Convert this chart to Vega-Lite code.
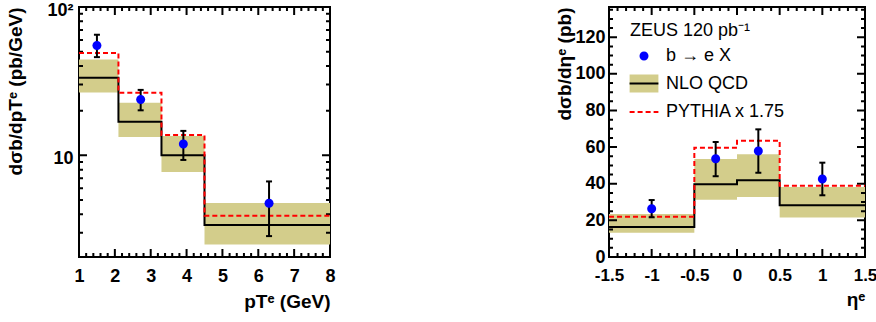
{
  "$schema": "https://vega.github.io/schema/vega-lite/v6.json",
  "padding": {"left": 5, "top": 0, "right": 0, "bottom": 0},
  "background": "white",
  "datasets": {
    "pt": [
      {"bin": 1, "lo": 1.0, "hi": 2.1, "x": 1.5, "val": 55.0, "elo": 45.9, "ehi": 65.0, "nlo": 33.3, "nlolo": 26.5, "nlohi": 44.3, "py": 48.9},
      {"bin": 2, "lo": 2.1, "hi": 3.3, "x": 2.72, "val": 23.8, "elo": 20.1, "ehi": 27.6, "nlo": 16.8, "nlolo": 13.3, "nlohi": 22.6, "py": 26.4},
      {"bin": 3, "lo": 3.3, "hi": 4.5, "x": 3.91, "val": 11.9, "elo": 9.3, "ehi": 14.6, "nlo": 10.0, "nlolo": 7.7, "nlohi": 13.5, "py": 13.7},
      {"bin": 4, "lo": 4.5, "hi": 8.0, "x": 6.3, "val": 4.74, "elo": 2.85, "ehi": 6.66, "nlo": 3.38, "nlolo": 2.5, "nlohi": 4.77, "py": 3.91}
    ],
    "eta": [
      {"bin": 1, "lo": -1.5, "hi": -0.5, "x": -1.0, "val": 26.4, "elo": 21.7, "ehi": 31.1, "nlo": 16.4, "nlolo": 13.3, "nlohi": 23.5, "py": 22.0},
      {"bin": 2, "lo": -0.5, "hi": 0.0, "x": -0.25, "val": 53.7, "elo": 44.1, "ehi": 62.8, "nlo": 39.7, "nlolo": 31.3, "nlohi": 53.5, "py": 59.7},
      {"bin": 3, "lo": 0.0, "hi": 0.5, "x": 0.25, "val": 57.9, "elo": 46.0, "ehi": 69.7, "nlo": 41.9, "nlolo": 32.8, "nlohi": 56.1, "py": 63.5},
      {"bin": 4, "lo": 0.5, "hi": 1.5, "x": 1.0, "val": 42.6, "elo": 33.7, "ehi": 51.5, "nlo": 28.2, "nlolo": 21.5, "nlohi": 38.2, "py": 38.9}
    ],
    "ptTicks": [
      {"axis": "x", "kind": "major", "v": 2}, {"axis": "x", "kind": "major", "v": 3}, {"axis": "x", "kind": "major", "v": 4},
      {"axis": "x", "kind": "major", "v": 5}, {"axis": "x", "kind": "major", "v": 6}, {"axis": "x", "kind": "major", "v": 7},
      {"axis": "x", "kind": "minor", "v": 1.2}, {"axis": "x", "kind": "minor", "v": 1.4}, {"axis": "x", "kind": "minor", "v": 1.6}, {"axis": "x", "kind": "minor", "v": 1.8},
      {"axis": "x", "kind": "minor", "v": 2.2}, {"axis": "x", "kind": "minor", "v": 2.4}, {"axis": "x", "kind": "minor", "v": 2.6}, {"axis": "x", "kind": "minor", "v": 2.8},
      {"axis": "x", "kind": "minor", "v": 3.2}, {"axis": "x", "kind": "minor", "v": 3.4}, {"axis": "x", "kind": "minor", "v": 3.6}, {"axis": "x", "kind": "minor", "v": 3.8},
      {"axis": "x", "kind": "minor", "v": 4.2}, {"axis": "x", "kind": "minor", "v": 4.4}, {"axis": "x", "kind": "minor", "v": 4.6}, {"axis": "x", "kind": "minor", "v": 4.8},
      {"axis": "x", "kind": "minor", "v": 5.2}, {"axis": "x", "kind": "minor", "v": 5.4}, {"axis": "x", "kind": "minor", "v": 5.6}, {"axis": "x", "kind": "minor", "v": 5.8},
      {"axis": "x", "kind": "minor", "v": 6.2}, {"axis": "x", "kind": "minor", "v": 6.4}, {"axis": "x", "kind": "minor", "v": 6.6}, {"axis": "x", "kind": "minor", "v": 6.8},
      {"axis": "x", "kind": "minor", "v": 7.2}, {"axis": "x", "kind": "minor", "v": 7.4}, {"axis": "x", "kind": "minor", "v": 7.6}, {"axis": "x", "kind": "minor", "v": 7.8},
      {"axis": "y", "kind": "major", "v": 10}, {"axis": "y", "kind": "major", "v": 100},
      {"axis": "y", "kind": "minor", "v": 3}, {"axis": "y", "kind": "minor", "v": 4}, {"axis": "y", "kind": "minor", "v": 5}, {"axis": "y", "kind": "minor", "v": 6},
      {"axis": "y", "kind": "minor", "v": 7}, {"axis": "y", "kind": "minor", "v": 8}, {"axis": "y", "kind": "minor", "v": 9},
      {"axis": "y", "kind": "minor", "v": 20}, {"axis": "y", "kind": "minor", "v": 30}, {"axis": "y", "kind": "minor", "v": 40}, {"axis": "y", "kind": "minor", "v": 50},
      {"axis": "y", "kind": "minor", "v": 60}, {"axis": "y", "kind": "minor", "v": 70}, {"axis": "y", "kind": "minor", "v": 80}, {"axis": "y", "kind": "minor", "v": 90}
    ],
    "etaTicks": [
      {"axis": "x", "kind": "major", "v": -1}, {"axis": "x", "kind": "major", "v": -0.5}, {"axis": "x", "kind": "major", "v": 0},
      {"axis": "x", "kind": "major", "v": 0.5}, {"axis": "x", "kind": "major", "v": 1},
      {"axis": "x", "kind": "minor", "v": -1.4}, {"axis": "x", "kind": "minor", "v": -1.3}, {"axis": "x", "kind": "minor", "v": -1.2}, {"axis": "x", "kind": "minor", "v": -1.1},
      {"axis": "x", "kind": "minor", "v": -0.9}, {"axis": "x", "kind": "minor", "v": -0.8}, {"axis": "x", "kind": "minor", "v": -0.7}, {"axis": "x", "kind": "minor", "v": -0.6},
      {"axis": "x", "kind": "minor", "v": -0.4}, {"axis": "x", "kind": "minor", "v": -0.3}, {"axis": "x", "kind": "minor", "v": -0.2}, {"axis": "x", "kind": "minor", "v": -0.1},
      {"axis": "x", "kind": "minor", "v": 0.1}, {"axis": "x", "kind": "minor", "v": 0.2}, {"axis": "x", "kind": "minor", "v": 0.3}, {"axis": "x", "kind": "minor", "v": 0.4},
      {"axis": "x", "kind": "minor", "v": 0.6}, {"axis": "x", "kind": "minor", "v": 0.7}, {"axis": "x", "kind": "minor", "v": 0.8}, {"axis": "x", "kind": "minor", "v": 0.9},
      {"axis": "x", "kind": "minor", "v": 1.1}, {"axis": "x", "kind": "minor", "v": 1.2}, {"axis": "x", "kind": "minor", "v": 1.3}, {"axis": "x", "kind": "minor", "v": 1.4},
      {"axis": "y", "kind": "major", "v": 20}, {"axis": "y", "kind": "major", "v": 40}, {"axis": "y", "kind": "major", "v": 60},
      {"axis": "y", "kind": "major", "v": 80}, {"axis": "y", "kind": "major", "v": 100}, {"axis": "y", "kind": "major", "v": 120},
      {"axis": "y", "kind": "minor", "v": 5}, {"axis": "y", "kind": "minor", "v": 10}, {"axis": "y", "kind": "minor", "v": 15},
      {"axis": "y", "kind": "minor", "v": 25}, {"axis": "y", "kind": "minor", "v": 30}, {"axis": "y", "kind": "minor", "v": 35},
      {"axis": "y", "kind": "minor", "v": 45}, {"axis": "y", "kind": "minor", "v": 50}, {"axis": "y", "kind": "minor", "v": 55},
      {"axis": "y", "kind": "minor", "v": 65}, {"axis": "y", "kind": "minor", "v": 70}, {"axis": "y", "kind": "minor", "v": 75},
      {"axis": "y", "kind": "minor", "v": 85}, {"axis": "y", "kind": "minor", "v": 90}, {"axis": "y", "kind": "minor", "v": 95},
      {"axis": "y", "kind": "minor", "v": 105}, {"axis": "y", "kind": "minor", "v": 110}, {"axis": "y", "kind": "minor", "v": 115},
      {"axis": "y", "kind": "minor", "v": 125}, {"axis": "y", "kind": "minor", "v": 130}, {"axis": "y", "kind": "minor", "v": 135}
    ]
  },
  "hconcat": [
    {
      "width": 251,
      "height": 250,
      "data": {"name": "pt"},
      "layer": [
        {
          "mark": {"type": "rect", "color": "#d3cd8b"},
          "encoding": {
            "x": {"field": "lo", "type": "quantitative", "scale": {"domain": [1, 8], "nice": false, "zero": false},
              "axis": {"orient": "bottom", "values": [1,2,3,4,5,6,7,8], "format": "d", "ticks": false, "grid": false,
                "labelPadding": 10, "labelFlush": false, "labelOverlap": false, "labelBound": false,
                "title": "pTᵉ (GeV)", "titleAnchor": "end", "titlePadding": 7}},
            "x2": {"field": "hi"},
            "y": {"field": "nlolo", "type": "quantitative", "scale": {"type": "log", "domain": [2.06, 100], "nice": false},
              "axis": {"orient": "left", "values": [10, 100], "labelExpr": "datum.value === 100 ? '10²' : '10'", "ticks": false, "grid": false,
                "labelPadding": 6, "labelOffset": 3, "labelFlush": false, "labelOverlap": false, "labelBound": false,
                "title": "dσb/dpTᵉ (pb/GeV)", "titleAnchor": "end", "titlePadding": 21}},
            "y2": {"field": "nlohi"}
          }
        },
        {
          "data": {"name": "ptTicks"},
          "transform": [{"filter": "datum.axis === 'x' && datum.kind === 'major'"}],
          "mark": {"type": "rule", "color": "#000000", "strokeWidth": 2, "strokeDash": [8, 234, 8]},
          "encoding": {
            "x": {"field": "v", "type": "quantitative", "axis": null},
            "y": {"datum": 2.06, "type": "quantitative", "axis": null},
            "y2": {"datum": 100}
          }
        },
        {
          "data": {"name": "ptTicks"},
          "transform": [{"filter": "datum.axis === 'x' && datum.kind === 'minor'"}],
          "mark": {"type": "rule", "color": "#000000", "strokeWidth": 2, "strokeDash": [4, 242, 4]},
          "encoding": {
            "x": {"field": "v", "type": "quantitative", "axis": null},
            "y": {"datum": 2.06, "type": "quantitative", "axis": null},
            "y2": {"datum": 100}
          }
        },
        {
          "data": {"name": "ptTicks"},
          "transform": [{"filter": "datum.axis === 'y' && datum.kind === 'major'"}],
          "mark": {"type": "rule", "color": "#000000", "strokeWidth": 2, "strokeDash": [8, 235, 8]},
          "encoding": {
            "y": {"field": "v", "type": "quantitative", "axis": null},
            "x": {"datum": 1, "type": "quantitative", "axis": null},
            "x2": {"datum": 8}
          }
        },
        {
          "data": {"name": "ptTicks"},
          "transform": [{"filter": "datum.axis === 'y' && datum.kind === 'minor'"}],
          "mark": {"type": "rule", "color": "#000000", "strokeWidth": 2, "strokeDash": [4, 243, 4]},
          "encoding": {
            "y": {"field": "v", "type": "quantitative", "axis": null},
            "x": {"datum": 1, "type": "quantitative", "axis": null},
            "x2": {"datum": 8}
          }
        },
        {
          "transform": [{"fold": ["lo", "hi"], "as": ["edge", "ex"]}],
          "mark": {"type": "line", "color": "#000000", "strokeWidth": 2},
          "encoding": {
            "x": {"field": "ex", "type": "quantitative", "axis": null},
            "y": {"field": "nlo", "type": "quantitative", "axis": null},
            "order": [{"field": "bin", "type": "quantitative"}, {"field": "edge", "sort": "descending"}]
          }
        },
        {
          "transform": [{"fold": ["lo", "hi"], "as": ["edge", "ex"]}],
          "mark": {"type": "line", "color": "#ff0000", "strokeWidth": 2, "strokeDash": [5, 3]},
          "encoding": {
            "x": {"field": "ex", "type": "quantitative", "axis": null},
            "y": {"field": "py", "type": "quantitative", "axis": null},
            "order": [{"field": "bin", "type": "quantitative"}, {"field": "edge", "sort": "descending"}]
          }
        },
        {
          "mark": {"type": "rule", "color": "#000000", "strokeWidth": 2},
          "encoding": {
            "x": {"field": "x", "type": "quantitative", "axis": null},
            "y": {"field": "elo", "type": "quantitative", "axis": null},
            "y2": {"field": "ehi"}
          }
        },
        {
          "mark": {"type": "tick", "orient": "horizontal", "size": 6, "thickness": 2, "color": "#000000", "opacity": 1},
          "encoding": {
            "x": {"field": "x", "type": "quantitative", "axis": null},
            "y": {"field": "elo", "type": "quantitative", "axis": null}
          }
        },
        {
          "mark": {"type": "tick", "orient": "horizontal", "size": 6, "thickness": 2, "color": "#000000", "opacity": 1},
          "encoding": {
            "x": {"field": "x", "type": "quantitative", "axis": null},
            "y": {"field": "ehi", "type": "quantitative", "axis": null}
          }
        },
        {
          "mark": {"type": "point", "shape": "M0.5,0A0.5,0.5 0 1,1 -0.5,0A0.5,0.5 0 1,1 0.5,0Z", "size": 324, "filled": true, "fill": "#0000ff", "opacity": 1, "strokeWidth": 0},
          "encoding": {
            "x": {"field": "x", "type": "quantitative", "axis": null},
            "y": {"field": "val", "type": "quantitative", "axis": null}
          }
        }
      ],
      "resolve": {"axis": {"x": "independent", "y": "independent"}}
    },
    {
      "width": 256,
      "height": 250,
      "data": {"name": "eta"},
      "layer": [
        {
          "mark": {"type": "rect"},
          "encoding": {
            "x": {"field": "lo", "type": "quantitative", "scale": {"domain": [-1.5, 1.5], "nice": false, "zero": false},
              "axis": {"orient": "bottom", "values": [-1.5,-1,-0.5,0,0.5,1,1.5], "format": "~g", "labelExpr": "replace(datum.label, '−', '-')",
                "ticks": false, "grid": false, "labelFontSize": 17, "labelPadding": 10, "labelFlush": false, "labelOverlap": false, "labelBound": false,
                "title": "ηᵉ", "titleAnchor": "end", "titlePadding": 7}},
            "x2": {"field": "hi"},
            "y": {"field": "nlolo", "type": "quantitative", "scale": {"domain": [0, 136.5], "nice": false, "zero": false},
              "axis": {"orient": "left", "values": [0,20,40,60,80,100,120], "format": "d", "ticks": false, "grid": false,
                "labelPadding": 4, "labelFlush": false, "labelOverlap": false, "labelBound": false,
                "title": "dσb/dηᵉ (pb)", "titleAnchor": "end", "titlePadding": 0}},
            "y2": {"field": "nlohi"},
            "fill": {"datum": "NLO QCD", "type": "nominal",
              "scale": {"domain": ["b → e X", "NLO QCD", "PYTHIA x 1.75"], "range": ["#0000ff", "#d3cd8b", "transparent"]},
              "legend": {"title": "ZEUS 120 pb⁻¹", "orient": "none", "legendX": 21, "legendY": 15, "padding": 0,
                "titleFont": "Liberation Sans", "titleFontWeight": "normal", "titleFontSize": 18, "titleColor": "#000000", "titlePadding": 6,
                "labelFont": "Liberation Sans", "labelFontSize": 18, "labelColor": "#000000",
                "symbolSize": 324, "symbolStrokeWidth": 2, "symbolOffset": 4, "labelOffset": 12, "rowPadding": 5.5}}
          }
        },
        {
          "data": {"name": "etaTicks"},
          "transform": [{"filter": "datum.axis === 'x' && datum.kind === 'major'"}],
          "mark": {"type": "rule", "color": "#000000", "strokeWidth": 2, "strokeDash": [8, 234, 8]},
          "encoding": {
            "x": {"field": "v", "type": "quantitative", "axis": null},
            "y": {"datum": 0, "type": "quantitative", "axis": null},
            "y2": {"datum": 136.5}
          }
        },
        {
          "data": {"name": "etaTicks"},
          "transform": [{"filter": "datum.axis === 'x' && datum.kind === 'minor'"}],
          "mark": {"type": "rule", "color": "#000000", "strokeWidth": 2, "strokeDash": [4, 242, 4]},
          "encoding": {
            "x": {"field": "v", "type": "quantitative", "axis": null},
            "y": {"datum": 0, "type": "quantitative", "axis": null},
            "y2": {"datum": 136.5}
          }
        },
        {
          "data": {"name": "etaTicks"},
          "transform": [{"filter": "datum.axis === 'y' && datum.kind === 'major'"}],
          "mark": {"type": "rule", "color": "#000000", "strokeWidth": 2, "strokeDash": [8, 240, 8]},
          "encoding": {
            "y": {"field": "v", "type": "quantitative", "axis": null},
            "x": {"datum": -1.5, "type": "quantitative", "axis": null},
            "x2": {"datum": 1.5}
          }
        },
        {
          "data": {"name": "etaTicks"},
          "transform": [{"filter": "datum.axis === 'y' && datum.kind === 'minor'"}],
          "mark": {"type": "rule", "color": "#000000", "strokeWidth": 2, "strokeDash": [4, 248, 4]},
          "encoding": {
            "y": {"field": "v", "type": "quantitative", "axis": null},
            "x": {"datum": -1.5, "type": "quantitative", "axis": null},
            "x2": {"datum": 1.5}
          }
        },
        {
          "transform": [{"fold": ["lo", "hi"], "as": ["edge", "ex"]}],
          "mark": {"type": "line", "strokeWidth": 2},
          "encoding": {
            "x": {"field": "ex", "type": "quantitative", "axis": null},
            "y": {"field": "nlo", "type": "quantitative", "axis": null},
            "stroke": {"datum": "NLO QCD", "type": "nominal",
              "scale": {"domain": ["b → e X", "NLO QCD", "PYTHIA x 1.75"], "range": ["transparent", "#000000", "#ff0000"]},
              "legend": {"title": "ZEUS 120 pb⁻¹", "orient": "none", "legendX": 21, "legendY": 15, "padding": 0,
                "titleFont": "Liberation Sans", "titleFontWeight": "normal", "titleFontSize": 18, "titleColor": "#000000", "titlePadding": 6,
                "labelFont": "Liberation Sans", "labelFontSize": 18, "labelColor": "#000000",
                "symbolSize": 324, "symbolStrokeWidth": 2, "symbolOffset": 4, "labelOffset": 12, "rowPadding": 5.5}},
            "order": [{"field": "bin", "type": "quantitative"}, {"field": "edge", "sort": "descending"}]
          }
        },
        {
          "transform": [{"fold": ["lo", "hi"], "as": ["edge", "ex"]}],
          "mark": {"type": "line", "strokeWidth": 2},
          "encoding": {
            "x": {"field": "ex", "type": "quantitative", "axis": null},
            "y": {"field": "py", "type": "quantitative", "axis": null},
            "stroke": {"datum": "PYTHIA x 1.75", "type": "nominal",
              "scale": {"domain": ["b → e X", "NLO QCD", "PYTHIA x 1.75"], "range": ["transparent", "#000000", "#ff0000"]},
              "legend": {"title": "ZEUS 120 pb⁻¹", "orient": "none", "legendX": 21, "legendY": 15, "padding": 0,
                "titleFont": "Liberation Sans", "titleFontWeight": "normal", "titleFontSize": 18, "titleColor": "#000000", "titlePadding": 6,
                "labelFont": "Liberation Sans", "labelFontSize": 18, "labelColor": "#000000",
                "symbolSize": 324, "symbolStrokeWidth": 2, "symbolOffset": 4, "labelOffset": 12, "rowPadding": 5.5}},
            "strokeDash": {"datum": "PYTHIA x 1.75", "type": "nominal",
              "scale": {"domain": ["b → e X", "NLO QCD", "PYTHIA x 1.75"], "range": [[1, 0], [28.8, 300], [5, 3]]},
              "legend": {"title": "ZEUS 120 pb⁻¹", "orient": "none", "legendX": 21, "legendY": 15, "padding": 0,
                "titleFont": "Liberation Sans", "titleFontWeight": "normal", "titleFontSize": 18, "titleColor": "#000000", "titlePadding": 6,
                "labelFont": "Liberation Sans", "labelFontSize": 18, "labelColor": "#000000",
                "symbolSize": 324, "symbolStrokeWidth": 2, "symbolOffset": 4, "labelOffset": 12, "rowPadding": 5.5}},
            "order": [{"field": "bin", "type": "quantitative"}, {"field": "edge", "sort": "descending"}]
          }
        },
        {
          "mark": {"type": "rule", "color": "#000000", "strokeWidth": 2},
          "encoding": {
            "x": {"field": "x", "type": "quantitative", "axis": null},
            "y": {"field": "elo", "type": "quantitative", "axis": null},
            "y2": {"field": "ehi"}
          }
        },
        {
          "mark": {"type": "tick", "orient": "horizontal", "size": 6, "thickness": 2, "color": "#000000", "opacity": 1},
          "encoding": {
            "x": {"field": "x", "type": "quantitative", "axis": null},
            "y": {"field": "elo", "type": "quantitative", "axis": null}
          }
        },
        {
          "mark": {"type": "tick", "orient": "horizontal", "size": 6, "thickness": 2, "color": "#000000", "opacity": 1},
          "encoding": {
            "x": {"field": "x", "type": "quantitative", "axis": null},
            "y": {"field": "ehi", "type": "quantitative", "axis": null}
          }
        },
        {
          "mark": {"type": "point", "size": 324, "filled": true, "opacity": 1, "strokeWidth": 0},
          "encoding": {
            "x": {"field": "x", "type": "quantitative", "axis": null},
            "y": {"field": "val", "type": "quantitative", "axis": null},
            "fill": {"datum": "b → e X", "type": "nominal",
              "scale": {"domain": ["b → e X", "NLO QCD", "PYTHIA x 1.75"], "range": ["#0000ff", "#d3cd8b", "transparent"]},
              "legend": {"title": "ZEUS 120 pb⁻¹", "orient": "none", "legendX": 21, "legendY": 15, "padding": 0,
                "titleFont": "Liberation Sans", "titleFontWeight": "normal", "titleFontSize": 18, "titleColor": "#000000", "titlePadding": 6,
                "labelFont": "Liberation Sans", "labelFontSize": 18, "labelColor": "#000000",
                "symbolSize": 324, "symbolStrokeWidth": 2, "symbolOffset": 4, "labelOffset": 12, "rowPadding": 5.5}},
            "shape": {"datum": "b → e X", "type": "nominal",
              "scale": {"domain": ["b → e X", "NLO QCD", "PYTHIA x 1.75"], "range": ["M0.5,0A0.5,0.5 0 1,1 -0.5,0A0.5,0.5 0 1,1 0.5,0Z", "M-1.6,0H1.6V-1H-1.6V1H1.6V0", "M-1.6,0H1.6"]},
              "legend": {"title": "ZEUS 120 pb⁻¹", "orient": "none", "legendX": 21, "legendY": 15, "padding": 0,
                "titleFont": "Liberation Sans", "titleFontWeight": "normal", "titleFontSize": 18, "titleColor": "#000000", "titlePadding": 6,
                "labelFont": "Liberation Sans", "labelFontSize": 18, "labelColor": "#000000",
                "symbolSize": 324, "symbolStrokeWidth": 2, "symbolOffset": 4, "labelOffset": 12, "rowPadding": 5.5}}
          }
        }
      ],
      "resolve": {"axis": {"x": "independent", "y": "independent"}}
    }
  ],
  "spacing": 279,
  "bounds": "flush",
  "resolve": {"scale": {"fill": "independent", "stroke": "independent", "shape": "independent", "strokeDash": "independent"}, "legend": {"fill": "independent", "stroke": "independent", "shape": "independent", "strokeDash": "independent"}},
  "config": {
    "view": {"stroke": "#000000", "strokeWidth": 2},
    "font": "Liberation Sans",
    "axis": {"domain": false, "grid": false, "labelFont": "Liberation Sans", "labelFontWeight": "bold", "labelFontSize": 18, "labelColor": "#000000",
      "titleFont": "Liberation Sans", "titleFontWeight": "bold", "titleFontSize": 19, "titleColor": "#000000"}
  }
}
